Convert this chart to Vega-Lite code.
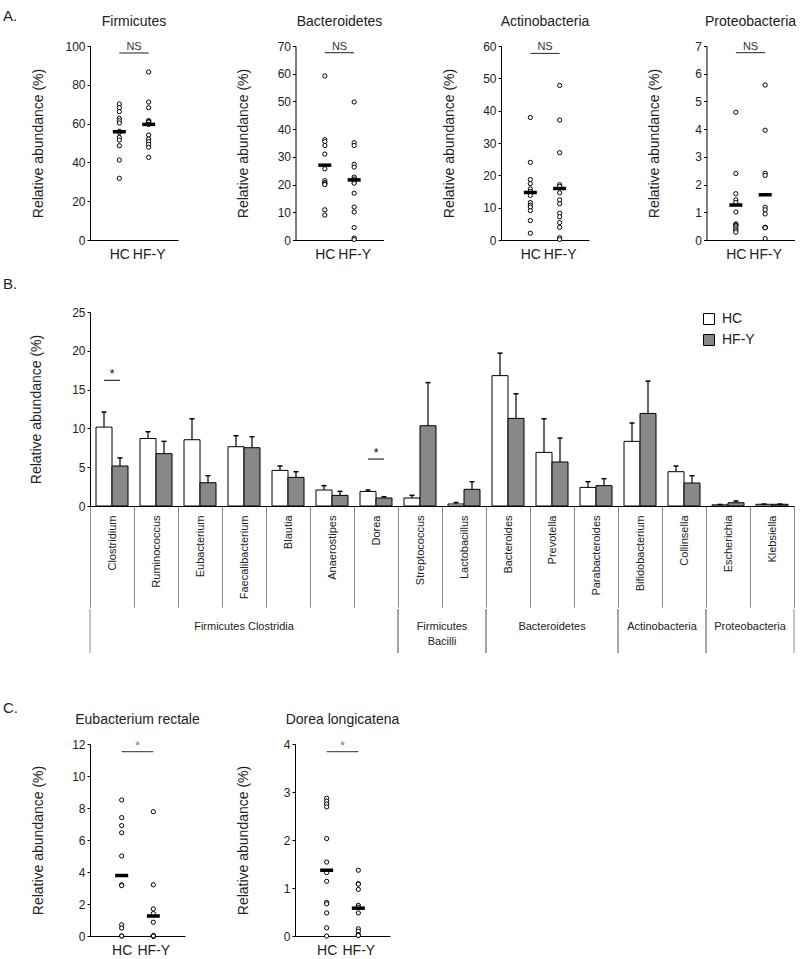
{
  "$schema": "https://vega.github.io/schema/vega-lite/v6.json",
  "padding": {"left": 3, "top": 9, "right": 0, "bottom": 0},
  "config": {
    "font": "Liberation Sans",
    "view": {"stroke": null},
    "axis": {"grid": false, "domainColor": "#000000", "tickColor": "#000000", "labelColor": "#222222", "titleColor": "#222222", "labelFont": "Liberation Sans", "titleFont": "Liberation Sans", "titleFontWeight": "normal", "labelOverlap": false, "labelFlush": false},
    "title": {"font": "Liberation Sans", "fontWeight": "normal", "color": "#222222"}
  },
  "resolve": {"scale": {"color": "independent"}, "legend": {"color": "independent"}},
  "datasets": {
    "phyla": [
      {"taxon": "Firmicutes", "group": "HC", "value": 70.1}, {"taxon": "Firmicutes", "group": "HC", "value": 68.2}, {"taxon": "Firmicutes", "group": "HC", "value": 66.2}, {"taxon": "Firmicutes", "group": "HC", "value": 62.7}, {"taxon": "Firmicutes", "group": "HC", "value": 61.5}, {"taxon": "Firmicutes", "group": "HC", "value": 60.3}, {"taxon": "Firmicutes", "group": "HC", "value": 56.0}, {"taxon": "Firmicutes", "group": "HC", "value": 55.5}, {"taxon": "Firmicutes", "group": "HC", "value": 52.9}, {"taxon": "Firmicutes", "group": "HC", "value": 51.5}, {"taxon": "Firmicutes", "group": "HC", "value": 48.6}, {"taxon": "Firmicutes", "group": "HC", "value": 41.2}, {"taxon": "Firmicutes", "group": "HC", "value": 31.8},
      {"taxon": "Firmicutes", "group": "HF-Y", "value": 86.6}, {"taxon": "Firmicutes", "group": "HF-Y", "value": 71.1}, {"taxon": "Firmicutes", "group": "HF-Y", "value": 68.2}, {"taxon": "Firmicutes", "group": "HF-Y", "value": 61.5}, {"taxon": "Firmicutes", "group": "HF-Y", "value": 61.3}, {"taxon": "Firmicutes", "group": "HF-Y", "value": 61.0}, {"taxon": "Firmicutes", "group": "HF-Y", "value": 60.8}, {"taxon": "Firmicutes", "group": "HF-Y", "value": 59.6}, {"taxon": "Firmicutes", "group": "HF-Y", "value": 54.1}, {"taxon": "Firmicutes", "group": "HF-Y", "value": 52.0}, {"taxon": "Firmicutes", "group": "HF-Y", "value": 50.7}, {"taxon": "Firmicutes", "group": "HF-Y", "value": 49.3}, {"taxon": "Firmicutes", "group": "HF-Y", "value": 47.8}, {"taxon": "Firmicutes", "group": "HF-Y", "value": 42.6},
      {"taxon": "Bacteroidetes", "group": "HC", "value": 59.2}, {"taxon": "Bacteroidetes", "group": "HC", "value": 36.2}, {"taxon": "Bacteroidetes", "group": "HC", "value": 35.5}, {"taxon": "Bacteroidetes", "group": "HC", "value": 34.1}, {"taxon": "Bacteroidetes", "group": "HC", "value": 31.0}, {"taxon": "Bacteroidetes", "group": "HC", "value": 25.7}, {"taxon": "Bacteroidetes", "group": "HC", "value": 21.4}, {"taxon": "Bacteroidetes", "group": "HC", "value": 20.7}, {"taxon": "Bacteroidetes", "group": "HC", "value": 20.3}, {"taxon": "Bacteroidetes", "group": "HC", "value": 20.0}, {"taxon": "Bacteroidetes", "group": "HC", "value": 10.9}, {"taxon": "Bacteroidetes", "group": "HC", "value": 9.0},
      {"taxon": "Bacteroidetes", "group": "HF-Y", "value": 49.8}, {"taxon": "Bacteroidetes", "group": "HF-Y", "value": 35.1}, {"taxon": "Bacteroidetes", "group": "HF-Y", "value": 34.1}, {"taxon": "Bacteroidetes", "group": "HF-Y", "value": 27.3}, {"taxon": "Bacteroidetes", "group": "HF-Y", "value": 26.3}, {"taxon": "Bacteroidetes", "group": "HF-Y", "value": 22.7}, {"taxon": "Bacteroidetes", "group": "HF-Y", "value": 22.0}, {"taxon": "Bacteroidetes", "group": "HF-Y", "value": 20.9}, {"taxon": "Bacteroidetes", "group": "HF-Y", "value": 20.5}, {"taxon": "Bacteroidetes", "group": "HF-Y", "value": 16.9}, {"taxon": "Bacteroidetes", "group": "HF-Y", "value": 11.9}, {"taxon": "Bacteroidetes", "group": "HF-Y", "value": 10.1}, {"taxon": "Bacteroidetes", "group": "HF-Y", "value": 4.5}, {"taxon": "Bacteroidetes", "group": "HF-Y", "value": 0.7}, {"taxon": "Bacteroidetes", "group": "HF-Y", "value": 0.2},
      {"taxon": "Actinobacteria", "group": "HC", "value": 37.9}, {"taxon": "Actinobacteria", "group": "HC", "value": 24.0}, {"taxon": "Actinobacteria", "group": "HC", "value": 18.7}, {"taxon": "Actinobacteria", "group": "HC", "value": 17.4}, {"taxon": "Actinobacteria", "group": "HC", "value": 15.8}, {"taxon": "Actinobacteria", "group": "HC", "value": 15.0}, {"taxon": "Actinobacteria", "group": "HC", "value": 13.8}, {"taxon": "Actinobacteria", "group": "HC", "value": 11.6}, {"taxon": "Actinobacteria", "group": "HC", "value": 10.8}, {"taxon": "Actinobacteria", "group": "HC", "value": 10.2}, {"taxon": "Actinobacteria", "group": "HC", "value": 9.1}, {"taxon": "Actinobacteria", "group": "HC", "value": 6.0}, {"taxon": "Actinobacteria", "group": "HC", "value": 2.1},
      {"taxon": "Actinobacteria", "group": "HF-Y", "value": 47.8}, {"taxon": "Actinobacteria", "group": "HF-Y", "value": 37.1}, {"taxon": "Actinobacteria", "group": "HF-Y", "value": 27.0}, {"taxon": "Actinobacteria", "group": "HF-Y", "value": 17.1}, {"taxon": "Actinobacteria", "group": "HF-Y", "value": 16.6}, {"taxon": "Actinobacteria", "group": "HF-Y", "value": 14.6}, {"taxon": "Actinobacteria", "group": "HF-Y", "value": 12.4}, {"taxon": "Actinobacteria", "group": "HF-Y", "value": 11.2}, {"taxon": "Actinobacteria", "group": "HF-Y", "value": 8.3}, {"taxon": "Actinobacteria", "group": "HF-Y", "value": 7.2}, {"taxon": "Actinobacteria", "group": "HF-Y", "value": 5.4}, {"taxon": "Actinobacteria", "group": "HF-Y", "value": 3.9}, {"taxon": "Actinobacteria", "group": "HF-Y", "value": 0.7}, {"taxon": "Actinobacteria", "group": "HF-Y", "value": 0.2},
      {"taxon": "Proteobacteria", "group": "HC", "value": 4.61}, {"taxon": "Proteobacteria", "group": "HC", "value": 2.4}, {"taxon": "Proteobacteria", "group": "HC", "value": 1.67}, {"taxon": "Proteobacteria", "group": "HC", "value": 1.45}, {"taxon": "Proteobacteria", "group": "HC", "value": 1.35}, {"taxon": "Proteobacteria", "group": "HC", "value": 1.01}, {"taxon": "Proteobacteria", "group": "HC", "value": 0.58}, {"taxon": "Proteobacteria", "group": "HC", "value": 0.55}, {"taxon": "Proteobacteria", "group": "HC", "value": 0.52}, {"taxon": "Proteobacteria", "group": "HC", "value": 0.47}, {"taxon": "Proteobacteria", "group": "HC", "value": 0.4}, {"taxon": "Proteobacteria", "group": "HC", "value": 0.34}, {"taxon": "Proteobacteria", "group": "HC", "value": 0.28},
      {"taxon": "Proteobacteria", "group": "HF-Y", "value": 5.59}, {"taxon": "Proteobacteria", "group": "HF-Y", "value": 3.96}, {"taxon": "Proteobacteria", "group": "HF-Y", "value": 2.41}, {"taxon": "Proteobacteria", "group": "HF-Y", "value": 2.33}, {"taxon": "Proteobacteria", "group": "HF-Y", "value": 1.18}, {"taxon": "Proteobacteria", "group": "HF-Y", "value": 1.09}, {"taxon": "Proteobacteria", "group": "HF-Y", "value": 0.94}, {"taxon": "Proteobacteria", "group": "HF-Y", "value": 0.46}, {"taxon": "Proteobacteria", "group": "HF-Y", "value": 0.45}, {"taxon": "Proteobacteria", "group": "HF-Y", "value": 0.45}, {"taxon": "Proteobacteria", "group": "HF-Y", "value": 0.44}, {"taxon": "Proteobacteria", "group": "HF-Y", "value": 0.05}
    ],
    "phylaMeans": [
      {"taxon": "Firmicutes", "group": "HC", "mean": 55.8}, {"taxon": "Firmicutes", "group": "HF-Y", "mean": 59.6},
      {"taxon": "Bacteroidetes", "group": "HC", "mean": 27.0}, {"taxon": "Bacteroidetes", "group": "HF-Y", "mean": 21.7},
      {"taxon": "Actinobacteria", "group": "HC", "mean": 14.7}, {"taxon": "Actinobacteria", "group": "HF-Y", "mean": 15.9},
      {"taxon": "Proteobacteria", "group": "HC", "mean": 1.26}, {"taxon": "Proteobacteria", "group": "HF-Y", "mean": 1.63}
    ],
    "phylaSig": [
      {"taxon": "Firmicutes", "from": "HC", "to": "HF-Y", "y": 96.4, "label": "NS"},
      {"taxon": "Bacteroidetes", "from": "HC", "to": "HF-Y", "y": 67.6, "label": "NS"},
      {"taxon": "Actinobacteria", "from": "HC", "to": "HF-Y", "y": 57.7, "label": "NS"},
      {"taxon": "Proteobacteria", "from": "HC", "to": "HF-Y", "y": 6.76, "label": "NS"}
    ],
    "genera": [
      {"genus": "Clostridium", "group": "HC", "mean": 10.17, "upper": 12.1}, {"genus": "Clostridium", "group": "HF-Y", "mean": 5.15, "upper": 6.2},
      {"genus": "Ruminococcus", "group": "HC", "mean": 8.7, "upper": 9.57}, {"genus": "Ruminococcus", "group": "HF-Y", "mean": 6.74, "upper": 8.33},
      {"genus": "Eubacterium", "group": "HC", "mean": 8.54, "upper": 11.24}, {"genus": "Eubacterium", "group": "HF-Y", "mean": 3.0, "upper": 3.9},
      {"genus": "Faecalibacterium", "group": "HC", "mean": 7.64, "upper": 9.06}, {"genus": "Faecalibacterium", "group": "HF-Y", "mean": 7.51, "upper": 8.93},
      {"genus": "Blautia", "group": "HC", "mean": 4.59, "upper": 5.15}, {"genus": "Blautia", "group": "HF-Y", "mean": 3.69, "upper": 4.42},
      {"genus": "Anaerostipes", "group": "HC", "mean": 2.06, "upper": 2.62}, {"genus": "Anaerostipes", "group": "HF-Y", "mean": 1.37, "upper": 1.89},
      {"genus": "Dorea", "group": "HC", "mean": 1.88, "upper": 2.06}, {"genus": "Dorea", "group": "HF-Y", "mean": 1.03, "upper": 1.2},
      {"genus": "Streptococcus", "group": "HC", "mean": 1.03, "upper": 1.37}, {"genus": "Streptococcus", "group": "HF-Y", "mean": 10.34, "upper": 15.9},
      {"genus": "Lactobacillus", "group": "HC", "mean": 0.26, "upper": 0.45}, {"genus": "Lactobacillus", "group": "HF-Y", "mean": 2.15, "upper": 3.13},
      {"genus": "Bacteroides", "group": "HC", "mean": 16.8, "upper": 19.7}, {"genus": "Bacteroides", "group": "HF-Y", "mean": 11.29, "upper": 14.46},
      {"genus": "Prevotella", "group": "HC", "mean": 6.91, "upper": 11.24}, {"genus": "Prevotella", "group": "HF-Y", "mean": 5.67, "upper": 8.76},
      {"genus": "Parabacteroides", "group": "HC", "mean": 2.4, "upper": 3.13}, {"genus": "Parabacteroides", "group": "HF-Y", "mean": 2.62, "upper": 3.52},
      {"genus": "Bifidobacterium", "group": "HC", "mean": 8.33, "upper": 10.69}, {"genus": "Bifidobacterium", "group": "HF-Y", "mean": 11.93, "upper": 16.1},
      {"genus": "Collinsella", "group": "HC", "mean": 4.42, "upper": 5.15}, {"genus": "Collinsella", "group": "HF-Y", "mean": 2.96, "upper": 3.9},
      {"genus": "Escherichia", "group": "HC", "mean": 0.15, "upper": 0.2}, {"genus": "Escherichia", "group": "HF-Y", "mean": 0.42, "upper": 0.65},
      {"genus": "Klebsiella", "group": "HC", "mean": 0.22, "upper": 0.25}, {"genus": "Klebsiella", "group": "HF-Y", "mean": 0.22, "upper": 0.25}
    ],
    "genusSig": [
      {"genus": "Clostridium", "y": 16.2, "label": "*"},
      {"genus": "Dorea", "y": 6.05, "label": "*"}
    ],
    "phylumGroups": [
      {"group": "Firmicutes Clostridia", "start": 0, "end": 7},
      {"group": "Firmicutes\nBacilli", "start": 7, "end": 9},
      {"group": "Bacteroidetes", "start": 9, "end": 12},
      {"group": "Actinobacteria", "start": 12, "end": 14},
      {"group": "Proteobacteria", "start": 14, "end": 16}
    ],
    "species": [
      {"taxon": "Eubacterium rectale", "group": "HC", "value": 8.5}, {"taxon": "Eubacterium rectale", "group": "HC", "value": 7.4}, {"taxon": "Eubacterium rectale", "group": "HC", "value": 6.9}, {"taxon": "Eubacterium rectale", "group": "HC", "value": 6.45}, {"taxon": "Eubacterium rectale", "group": "HC", "value": 5.0}, {"taxon": "Eubacterium rectale", "group": "HC", "value": 3.2}, {"taxon": "Eubacterium rectale", "group": "HC", "value": 3.15}, {"taxon": "Eubacterium rectale", "group": "HC", "value": 0.7}, {"taxon": "Eubacterium rectale", "group": "HC", "value": 0.5}, {"taxon": "Eubacterium rectale", "group": "HC", "value": 0}, {"taxon": "Eubacterium rectale", "group": "HC", "value": 0},
      {"taxon": "Eubacterium rectale", "group": "HF-Y", "value": 7.77}, {"taxon": "Eubacterium rectale", "group": "HF-Y", "value": 3.2}, {"taxon": "Eubacterium rectale", "group": "HF-Y", "value": 1.69}, {"taxon": "Eubacterium rectale", "group": "HF-Y", "value": 1.4}, {"taxon": "Eubacterium rectale", "group": "HF-Y", "value": 0.86}, {"taxon": "Eubacterium rectale", "group": "HF-Y", "value": 0}, {"taxon": "Eubacterium rectale", "group": "HF-Y", "value": 0}, {"taxon": "Eubacterium rectale", "group": "HF-Y", "value": 0}, {"taxon": "Eubacterium rectale", "group": "HF-Y", "value": 0}, {"taxon": "Eubacterium rectale", "group": "HF-Y", "value": 0}, {"taxon": "Eubacterium rectale", "group": "HF-Y", "value": 0}, {"taxon": "Eubacterium rectale", "group": "HF-Y", "value": 0},
      {"taxon": "Dorea longicatena", "group": "HC", "value": 2.87}, {"taxon": "Dorea longicatena", "group": "HC", "value": 2.81}, {"taxon": "Dorea longicatena", "group": "HC", "value": 2.75}, {"taxon": "Dorea longicatena", "group": "HC", "value": 2.69}, {"taxon": "Dorea longicatena", "group": "HC", "value": 2.03}, {"taxon": "Dorea longicatena", "group": "HC", "value": 1.54}, {"taxon": "Dorea longicatena", "group": "HC", "value": 1.32}, {"taxon": "Dorea longicatena", "group": "HC", "value": 1.14}, {"taxon": "Dorea longicatena", "group": "HC", "value": 0.7}, {"taxon": "Dorea longicatena", "group": "HC", "value": 0.67}, {"taxon": "Dorea longicatena", "group": "HC", "value": 0.48}, {"taxon": "Dorea longicatena", "group": "HC", "value": 0.17}, {"taxon": "Dorea longicatena", "group": "HC", "value": 0},
      {"taxon": "Dorea longicatena", "group": "HF-Y", "value": 1.37}, {"taxon": "Dorea longicatena", "group": "HF-Y", "value": 1.09}, {"taxon": "Dorea longicatena", "group": "HF-Y", "value": 1.08}, {"taxon": "Dorea longicatena", "group": "HF-Y", "value": 0.97}, {"taxon": "Dorea longicatena", "group": "HF-Y", "value": 0.64}, {"taxon": "Dorea longicatena", "group": "HF-Y", "value": 0.6}, {"taxon": "Dorea longicatena", "group": "HF-Y", "value": 0.48}, {"taxon": "Dorea longicatena", "group": "HF-Y", "value": 0.15}, {"taxon": "Dorea longicatena", "group": "HF-Y", "value": 0.1}, {"taxon": "Dorea longicatena", "group": "HF-Y", "value": 0.02}, {"taxon": "Dorea longicatena", "group": "HF-Y", "value": 0.02}, {"taxon": "Dorea longicatena", "group": "HF-Y", "value": 0.01}
    ],
    "speciesMeans": [
      {"taxon": "Eubacterium rectale", "group": "HC", "mean": 3.78}, {"taxon": "Eubacterium rectale", "group": "HF-Y", "mean": 1.25},
      {"taxon": "Dorea longicatena", "group": "HC", "mean": 1.37}, {"taxon": "Dorea longicatena", "group": "HF-Y", "mean": 0.58}
    ],
    "speciesSig": [
      {"taxon": "Eubacterium rectale", "from": "HC", "to": "HF-Y", "y": 11.52, "label": "*"},
      {"taxon": "Dorea longicatena", "from": "HC", "to": "HF-Y", "y": 3.84, "label": "*"}
    ]
  },
  "spacing": 16,
  "vconcat": [
    {
      "title": {"text": "A.", "anchor": "start", "frame": "group", "dx": -87, "fontSize": 15, "offset": -21, "baseline": "alphabetic"},
      "bounds": "flush",
      "spacing": 117.5,
      "hconcat": [
        {
          "width": 88, "height": 194,
          "title": {"text": "Firmicutes", "fontSize": 14, "frame": "group", "offset": 0, "baseline": "alphabetic"},
          "layer": [
            {"data": {"name": "phyla"}, "transform": [{"filter": {"field": "taxon", "equal": "Firmicutes"}}],
             "mark": {"type": "point", "shape": "circle", "filled": true, "fill": "#ffffff", "stroke": "#000000", "strokeWidth": 1, "size": 18, "opacity": 1},
             "encoding": {
               "x": {"field": "group", "type": "nominal", "scale": {"type": "point", "domain": ["HC", "HF-Y"], "padding": 1}, "axis": {"title": null, "labelAngle": 0, "labelFontSize": 14, "ticks": false, "labelPadding": 7}},
               "y": {"field": "value", "type": "quantitative", "scale": {"domain": [0, 100], "nice": false}, "axis": {"title": "Relative abundance (%)", "titleFontSize": 14, "titleX": -45, "labelFontSize": 12, "tickSize": 3, "labelOverlap": false, "tickCount": 50, "format": "d", "values": [0, 20, 40, 60, 80, 100]}}
             }},
            {"data": {"name": "phylaMeans"}, "transform": [{"filter": {"field": "taxon", "equal": "Firmicutes"}}],
             "mark": {"type": "tick", "orient": "horizontal", "size": 13, "thickness": 3.5, "color": "#000000", "opacity": 1},
             "encoding": {"x": {"field": "group", "type": "nominal"}, "y": {"field": "mean", "type": "quantitative"}}},
            {"data": {"name": "phylaSig"}, "transform": [{"filter": {"field": "taxon", "equal": "Firmicutes"}}],
             "mark": {"type": "rule", "color": "#444444", "strokeWidth": 1.2},
             "encoding": {"x": {"field": "from", "type": "nominal"}, "x2": {"field": "to"}, "y": {"field": "y", "type": "quantitative"}}},
            {"data": {"name": "phylaSig"}, "transform": [{"filter": {"field": "taxon", "equal": "Firmicutes"}}],
             "mark": {"type": "text", "fontSize": 11, "baseline": "alphabetic", "dy": -3, "dx": 14.7, "color": "#333333"},
             "encoding": {"x": {"field": "from", "type": "nominal"}, "y": {"field": "y", "type": "quantitative"}, "text": {"field": "label"}}}
          ]
        },
        {
          "width": 88, "height": 194,
          "title": {"text": "Bacteroidetes", "fontSize": 14, "frame": "group", "offset": 0, "baseline": "alphabetic"},
          "layer": [
            {"data": {"name": "phyla"}, "transform": [{"filter": {"field": "taxon", "equal": "Bacteroidetes"}}],
             "mark": {"type": "point", "shape": "circle", "filled": true, "fill": "#ffffff", "stroke": "#000000", "strokeWidth": 1, "size": 18, "opacity": 1},
             "encoding": {
               "x": {"field": "group", "type": "nominal", "scale": {"type": "point", "domain": ["HC", "HF-Y"], "padding": 1}, "axis": {"title": null, "labelAngle": 0, "labelFontSize": 14, "ticks": false, "labelPadding": 7}},
               "y": {"field": "value", "type": "quantitative", "scale": {"domain": [0, 70], "nice": false}, "axis": {"title": "Relative abundance (%)", "titleFontSize": 14, "titleX": -45, "labelFontSize": 12, "tickSize": 3, "labelOverlap": false, "tickCount": 50, "format": "d", "values": [0, 10, 20, 30, 40, 50, 60, 70]}}
             }},
            {"data": {"name": "phylaMeans"}, "transform": [{"filter": {"field": "taxon", "equal": "Bacteroidetes"}}],
             "mark": {"type": "tick", "orient": "horizontal", "size": 13, "thickness": 3.5, "color": "#000000", "opacity": 1},
             "encoding": {"x": {"field": "group", "type": "nominal"}, "y": {"field": "mean", "type": "quantitative"}}},
            {"data": {"name": "phylaSig"}, "transform": [{"filter": {"field": "taxon", "equal": "Bacteroidetes"}}],
             "mark": {"type": "rule", "color": "#444444", "strokeWidth": 1.2},
             "encoding": {"x": {"field": "from", "type": "nominal"}, "x2": {"field": "to"}, "y": {"field": "y", "type": "quantitative"}}},
            {"data": {"name": "phylaSig"}, "transform": [{"filter": {"field": "taxon", "equal": "Bacteroidetes"}}],
             "mark": {"type": "text", "fontSize": 11, "baseline": "alphabetic", "dy": -3, "dx": 14.7, "color": "#333333"},
             "encoding": {"x": {"field": "from", "type": "nominal"}, "y": {"field": "y", "type": "quantitative"}, "text": {"field": "label"}}}
          ]
        },
        {
          "width": 88, "height": 194,
          "title": {"text": "Actinobacteria", "fontSize": 14, "frame": "group", "offset": 0, "baseline": "alphabetic"},
          "layer": [
            {"data": {"name": "phyla"}, "transform": [{"filter": {"field": "taxon", "equal": "Actinobacteria"}}],
             "mark": {"type": "point", "shape": "circle", "filled": true, "fill": "#ffffff", "stroke": "#000000", "strokeWidth": 1, "size": 18, "opacity": 1},
             "encoding": {
               "x": {"field": "group", "type": "nominal", "scale": {"type": "point", "domain": ["HC", "HF-Y"], "padding": 1}, "axis": {"title": null, "labelAngle": 0, "labelFontSize": 14, "ticks": false, "labelPadding": 7}},
               "y": {"field": "value", "type": "quantitative", "scale": {"domain": [0, 60], "nice": false}, "axis": {"title": "Relative abundance (%)", "titleFontSize": 14, "titleX": -45, "labelFontSize": 12, "tickSize": 3, "labelOverlap": false, "tickCount": 50, "format": "d", "values": [0, 10, 20, 30, 40, 50, 60]}}
             }},
            {"data": {"name": "phylaMeans"}, "transform": [{"filter": {"field": "taxon", "equal": "Actinobacteria"}}],
             "mark": {"type": "tick", "orient": "horizontal", "size": 13, "thickness": 3.5, "color": "#000000", "opacity": 1},
             "encoding": {"x": {"field": "group", "type": "nominal"}, "y": {"field": "mean", "type": "quantitative"}}},
            {"data": {"name": "phylaSig"}, "transform": [{"filter": {"field": "taxon", "equal": "Actinobacteria"}}],
             "mark": {"type": "rule", "color": "#444444", "strokeWidth": 1.2},
             "encoding": {"x": {"field": "from", "type": "nominal"}, "x2": {"field": "to"}, "y": {"field": "y", "type": "quantitative"}}},
            {"data": {"name": "phylaSig"}, "transform": [{"filter": {"field": "taxon", "equal": "Actinobacteria"}}],
             "mark": {"type": "text", "fontSize": 11, "baseline": "alphabetic", "dy": -3, "dx": 14.7, "color": "#333333"},
             "encoding": {"x": {"field": "from", "type": "nominal"}, "y": {"field": "y", "type": "quantitative"}, "text": {"field": "label"}}}
          ]
        },
        {
          "width": 88, "height": 194,
          "title": {"text": "Proteobacteria", "fontSize": 14, "frame": "group", "offset": 0, "baseline": "alphabetic"},
          "layer": [
            {"data": {"name": "phyla"}, "transform": [{"filter": {"field": "taxon", "equal": "Proteobacteria"}}],
             "mark": {"type": "point", "shape": "circle", "filled": true, "fill": "#ffffff", "stroke": "#000000", "strokeWidth": 1, "size": 18, "opacity": 1},
             "encoding": {
               "x": {"field": "group", "type": "nominal", "scale": {"type": "point", "domain": ["HC", "HF-Y"], "padding": 1}, "axis": {"title": null, "labelAngle": 0, "labelFontSize": 14, "ticks": false, "labelPadding": 7}},
               "y": {"field": "value", "type": "quantitative", "scale": {"domain": [0, 7], "nice": false}, "axis": {"title": "Relative abundance (%)", "titleFontSize": 14, "titleX": -45, "labelFontSize": 12, "tickSize": 3, "labelOverlap": false, "tickCount": 50, "format": "d", "values": [0, 1, 2, 3, 4, 5, 6, 7]}}
             }},
            {"data": {"name": "phylaMeans"}, "transform": [{"filter": {"field": "taxon", "equal": "Proteobacteria"}}],
             "mark": {"type": "tick", "orient": "horizontal", "size": 13, "thickness": 3.5, "color": "#000000", "opacity": 1},
             "encoding": {"x": {"field": "group", "type": "nominal"}, "y": {"field": "mean", "type": "quantitative"}}},
            {"data": {"name": "phylaSig"}, "transform": [{"filter": {"field": "taxon", "equal": "Proteobacteria"}}],
             "mark": {"type": "rule", "color": "#444444", "strokeWidth": 1.2},
             "encoding": {"x": {"field": "from", "type": "nominal"}, "x2": {"field": "to"}, "y": {"field": "y", "type": "quantitative"}}},
            {"data": {"name": "phylaSig"}, "transform": [{"filter": {"field": "taxon", "equal": "Proteobacteria"}}],
             "mark": {"type": "text", "fontSize": 11, "baseline": "alphabetic", "dy": -3, "dx": 14.7, "color": "#333333"},
             "encoding": {"x": {"field": "from", "type": "nominal"}, "y": {"field": "y", "type": "quantitative"}, "text": {"field": "label"}}}
          ]
        }
      ]
    },
    {
      "spacing": 47,
      "resolve": {"scale": {"color": "independent"}, "legend": {"color": "independent"}},
      "vconcat": [
        {
          "spacing": 0,
          "resolve": {"scale": {"color": "independent"}, "legend": {"color": "independent"}},
          "vconcat": [
            {
              "width": 704, "height": 194,
              "title": {"text": "B.", "anchor": "start", "frame": "group", "dx": -87, "fontSize": 15, "offset": 2, "baseline": "alphabetic"},
              "data": {"name": "genera"},
              "layer": [
                {"mark": {"type": "bar", "stroke": "#000000", "strokeWidth": 1},
                 "encoding": {
                   "x": {"field": "genus", "type": "nominal", "scale": {"domain": ["Clostridium", "Ruminococcus", "Eubacterium", "Faecalibacterium", "Blautia", "Anaerostipes", "Dorea", "Streptococcus", "Lactobacillus", "Bacteroides", "Prevotella", "Parabacteroides", "Bifidobacterium", "Collinsella", "Escherichia", "Klebsiella"], "paddingInner": 0, "paddingOuter": 0},
                         "axis": {"title": null, "labelAngle": -90, "labelFontSize": 11, "labelPadding": -92, "tickBand": "extent", "tickSize": 101, "tickColor": "#888888", "tickWidth": 1}},
                   "xOffset": {"field": "group", "type": "nominal", "scale": {"domain": ["HC", "HF-Y"], "paddingInner": 0, "paddingOuter": 0.375}},
                   "y": {"field": "mean", "type": "quantitative", "scale": {"domain": [0, 25], "nice": false}, "axis": {"title": "Relative abundance (%)", "titleFontSize": 14, "titleX": -47, "labelFontSize": 12, "tickSize": 3, "labelOverlap": false, "tickCount": 50, "format": "d", "values": [0, 5, 10, 15, 20, 25]}},
                   "color": {"field": "group", "type": "nominal", "scale": {"domain": ["HC", "HF-Y"], "range": ["#ffffff", "#888888"]},
                             "legend": {"title": null, "orient": "none", "legendX": 612, "legendY": 0, "symbolType": "square", "symbolSize": 120, "symbolStrokeColor": "#000000", "symbolStrokeWidth": 1, "labelFontSize": 14, "labelColor": "#222222", "rowPadding": 5, "labelOffset": 6}}
                 }},
                {"mark": {"type": "rule", "color": "#000000", "strokeWidth": 1.2},
                 "encoding": {"x": {"field": "genus", "type": "nominal"}, "xOffset": {"field": "group", "type": "nominal"}, "y": {"field": "mean", "type": "quantitative"}, "y2": {"field": "upper"}}},
                {"mark": {"type": "tick", "orient": "horizontal", "size": 5, "thickness": 1.5, "color": "#000000", "opacity": 1},
                 "encoding": {"x": {"field": "genus", "type": "nominal"}, "xOffset": {"field": "group", "type": "nominal"}, "y": {"field": "upper", "type": "quantitative"}}},
                {"data": {"name": "genusSig"},
                 "mark": {"type": "tick", "orient": "horizontal", "size": 16, "thickness": 1, "color": "#000000", "opacity": 1},
                 "encoding": {"x": {"field": "genus", "type": "nominal"}, "y": {"field": "y", "type": "quantitative"}}},
                {"data": {"name": "genusSig"},
                 "mark": {"type": "text", "fontSize": 12, "baseline": "alphabetic", "dy": -2, "color": "#000000"},
                 "encoding": {"x": {"field": "genus", "type": "nominal"}, "y": {"field": "y", "type": "quantitative"}, "text": {"field": "label"}}}
              ]
            },
            {
              "width": 704, "height": 44,
              "data": {"name": "phylumGroups"},
              "transform": [{"fold": ["start", "end"], "as": ["edge", "pos"]}],
              "layer": [
                {"mark": {"type": "rule", "color": "#888888", "strokeWidth": 1},
                 "encoding": {"x": {"field": "pos", "type": "quantitative", "scale": {"domain": [0, 16], "nice": false, "zero": false}, "axis": null}}},
                {"mark": {"type": "text", "fontSize": 11, "lineBreak": "\n", "baseline": "top", "dy": -10, "color": "#222222", "lineHeight": 15},
                 "encoding": {"x": {"aggregate": "mean", "field": "pos", "type": "quantitative"}, "text": {"field": "group"}}}
              ]
            }
          ]
        },
        {
          "title": {"text": "C.", "anchor": "start", "frame": "group", "dx": -87, "fontSize": 15, "offset": -15, "baseline": "alphabetic"},
          "bounds": "flush",
          "spacing": 110,
          "hconcat": [
            {
              "width": 95, "height": 192,
              "title": {"text": "Eubacterium rectale", "fontSize": 14, "frame": "group", "offset": 0, "baseline": "alphabetic"},
              "layer": [
                {"data": {"name": "species"}, "transform": [{"filter": {"field": "taxon", "equal": "Eubacterium rectale"}}],
                 "mark": {"type": "point", "shape": "circle", "filled": true, "fill": "#ffffff", "stroke": "#000000", "strokeWidth": 1, "size": 18, "opacity": 1},
                 "encoding": {
                   "x": {"field": "group", "type": "nominal", "scale": {"type": "point", "domain": ["HC", "HF-Y"], "padding": 1}, "axis": {"title": null, "labelAngle": 0, "labelFontSize": 14, "ticks": false, "labelPadding": 7}},
                   "y": {"field": "value", "type": "quantitative", "scale": {"domain": [0, 12], "nice": false}, "axis": {"title": "Relative abundance (%)", "titleFontSize": 14, "titleX": -45, "labelFontSize": 12, "tickSize": 3, "labelOverlap": false, "tickCount": 50, "format": "d", "values": [0, 2, 4, 6, 8, 10, 12]}}
                 }},
                {"data": {"name": "speciesMeans"}, "transform": [{"filter": {"field": "taxon", "equal": "Eubacterium rectale"}}],
                 "mark": {"type": "tick", "orient": "horizontal", "size": 13, "thickness": 3.5, "color": "#000000", "opacity": 1},
                 "encoding": {"x": {"field": "group", "type": "nominal"}, "y": {"field": "mean", "type": "quantitative"}}},
                {"data": {"name": "speciesSig"}, "transform": [{"filter": {"field": "taxon", "equal": "Eubacterium rectale"}}],
                 "mark": {"type": "rule", "color": "#555555", "strokeWidth": 1.2},
                 "encoding": {"x": {"field": "from", "type": "nominal"}, "x2": {"field": "to"}, "y": {"field": "y", "type": "quantitative"}}},
                {"data": {"name": "speciesSig"}, "transform": [{"filter": {"field": "taxon", "equal": "Eubacterium rectale"}}],
                 "mark": {"type": "text", "fontSize": 12, "baseline": "alphabetic", "dy": -2, "dx": 15.8, "color": "#777777"},
                 "encoding": {"x": {"field": "from", "type": "nominal"}, "y": {"field": "y", "type": "quantitative"}, "text": {"field": "label"}}}
              ]
            },
            {
              "width": 95, "height": 192,
              "title": {"text": "Dorea longicatena", "fontSize": 14, "frame": "group", "offset": 0, "baseline": "alphabetic"},
              "layer": [
                {"data": {"name": "species"}, "transform": [{"filter": {"field": "taxon", "equal": "Dorea longicatena"}}],
                 "mark": {"type": "point", "shape": "circle", "filled": true, "fill": "#ffffff", "stroke": "#000000", "strokeWidth": 1, "size": 18, "opacity": 1},
                 "encoding": {
                   "x": {"field": "group", "type": "nominal", "scale": {"type": "point", "domain": ["HC", "HF-Y"], "padding": 1}, "axis": {"title": null, "labelAngle": 0, "labelFontSize": 14, "ticks": false, "labelPadding": 7}},
                   "y": {"field": "value", "type": "quantitative", "scale": {"domain": [0, 4], "nice": false}, "axis": {"title": "Relative abundance (%)", "titleFontSize": 14, "titleX": -45, "labelFontSize": 12, "tickSize": 3, "labelOverlap": false, "tickCount": 50, "format": "d", "values": [0, 1, 2, 3, 4]}}
                 }},
                {"data": {"name": "speciesMeans"}, "transform": [{"filter": {"field": "taxon", "equal": "Dorea longicatena"}}],
                 "mark": {"type": "tick", "orient": "horizontal", "size": 13, "thickness": 3.5, "color": "#000000", "opacity": 1},
                 "encoding": {"x": {"field": "group", "type": "nominal"}, "y": {"field": "mean", "type": "quantitative"}}},
                {"data": {"name": "speciesSig"}, "transform": [{"filter": {"field": "taxon", "equal": "Dorea longicatena"}}],
                 "mark": {"type": "rule", "color": "#555555", "strokeWidth": 1.2},
                 "encoding": {"x": {"field": "from", "type": "nominal"}, "x2": {"field": "to"}, "y": {"field": "y", "type": "quantitative"}}},
                {"data": {"name": "speciesSig"}, "transform": [{"filter": {"field": "taxon", "equal": "Dorea longicatena"}}],
                 "mark": {"type": "text", "fontSize": 12, "baseline": "alphabetic", "dy": -2, "dx": 15.8, "color": "#777777"},
                 "encoding": {"x": {"field": "from", "type": "nominal"}, "y": {"field": "y", "type": "quantitative"}, "text": {"field": "label"}}}
              ]
            }
          ]
        }
      ]
    }
  ]
}
